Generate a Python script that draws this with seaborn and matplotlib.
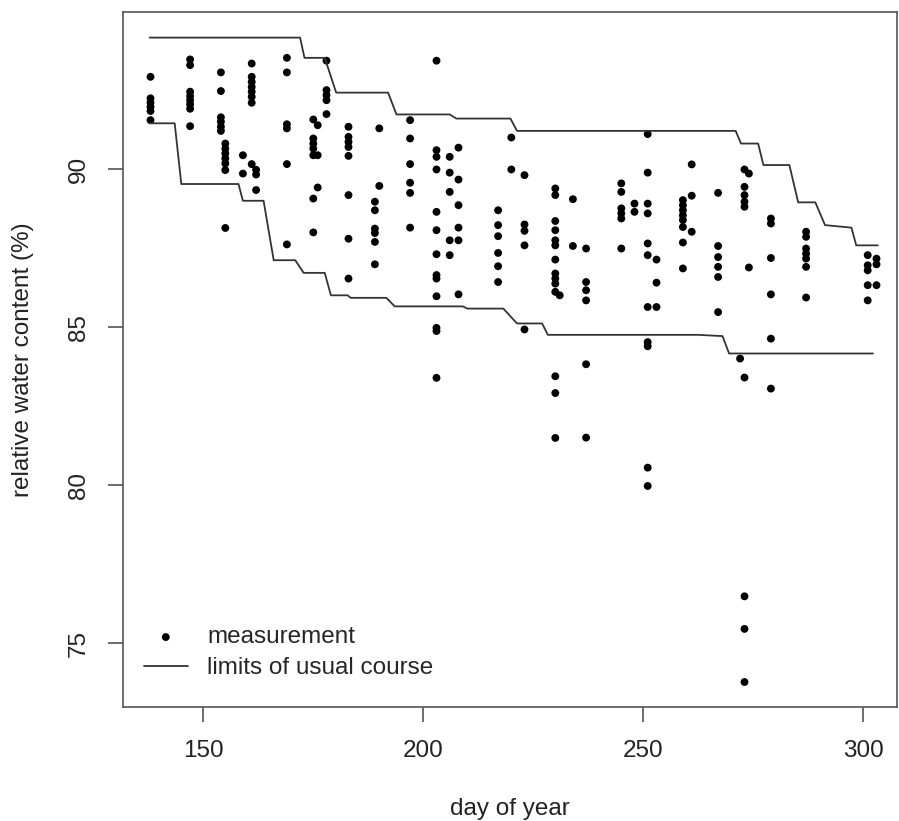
import numpy as np
import pandas as pd
import seaborn as sns
import matplotlib
matplotlib.use("Agg")
import matplotlib.pyplot as plt

# measured relative water content, grouped by day of year
days = [138, 147, 154, 155, 159, 161, 162, 169, 175, 176, 178, 183, 189, 190,
        197, 203, 206, 208, 217, 220, 223, 230, 231, 234, 237, 245, 248, 251,
        253, 259, 261, 267, 272, 273, 274, 279, 287, 301, 303]
values = [
    [92.92, 92.24, 92.10, 91.97, 91.84, 91.55],
    [93.47, 93.29, 92.45, 92.31, 92.18, 92.05, 91.91, 91.36],
    [93.06, 92.47, 91.64, 91.50, 91.34, 91.21],
    [90.81, 90.65, 90.50, 90.34, 90.18, 89.97, 88.14],
    [90.44, 89.86],
    [93.34, 92.92, 92.76, 92.60, 92.45, 92.29, 92.10, 90.16],
    [89.98, 89.83, 89.34],
    [93.52, 93.06, 91.42, 91.29, 90.16, 87.62],
    [91.57, 90.97, 90.81, 90.65, 90.44, 89.07, 88.00],
    [91.39, 90.44, 89.42],
    [93.43, 92.50, 92.34, 92.18, 91.74],
    [91.34, 91.02, 90.86, 90.70, 90.42, 89.18, 87.80, 86.54],
    [88.97, 88.70, 88.12, 87.98, 87.70, 86.99],
    [91.29, 89.47],
    [91.55, 90.97, 90.16, 89.57, 89.25, 88.15],
    [93.43, 90.60, 90.39, 89.99, 88.65, 88.07, 87.31, 86.65, 86.54, 85.98,
     84.98, 84.88, 83.40],
    [90.39, 89.89, 89.28, 87.75, 87.28],
    [90.68, 89.67, 88.86, 88.15, 87.75, 86.04],
    [88.70, 88.23, 87.88, 87.35, 86.93, 86.43],
    [91.00, 89.99],
    [89.81, 88.25, 88.05, 87.59, 84.93],
    [89.39, 89.18, 88.36, 88.07, 87.75, 87.59, 87.14, 86.70, 86.54, 86.38,
     86.12, 83.45, 82.92, 81.50],
    [86.01],
    [89.05, 87.57],
    [87.49, 86.43, 86.17, 85.85, 83.83, 81.51],
    [89.55, 89.28, 88.76, 88.60, 88.44, 87.49],
    [88.91, 88.65],
    [91.11, 89.89, 88.91, 88.60, 87.65, 87.28, 85.64, 84.53, 84.40, 80.56, 79.98],
    [87.14, 86.41, 85.64],
    [89.02, 88.86, 88.70, 88.54, 88.39, 88.17, 87.68, 86.86],
    [90.15, 89.16, 88.02],
    [89.25, 87.57, 87.22, 86.91, 86.59, 85.48],
    [84.01],
    [89.99, 89.44, 89.18, 88.97, 88.81, 83.41, 76.49, 75.46, 73.78],
    [89.86, 86.89],
    [88.44, 88.28, 87.19, 86.04, 84.64, 83.06],
    [88.02, 87.86, 87.49, 87.33, 87.17, 86.91, 85.94],
    [87.28, 86.96, 86.80, 86.33, 85.85],
    [87.17, 86.99, 86.33],
]

# limits of the usual course
upper_day = [137.8, 172, 173, 177.6, 180.2, 192, 193.9, 206, 207.5, 219.8, 221.3,
             271, 272.2, 276.1, 277.3, 283.2, 285.2, 289.1, 291.3, 297.3, 298.4, 303.3]
upper_val = [94.16, 94.16, 93.52, 93.52, 92.42, 92.42, 91.73, 91.73, 91.60, 91.60, 91.21,
             91.21, 90.81, 90.81, 90.13, 90.13, 88.95, 88.95, 88.23, 88.15, 87.59, 87.59]
lower_day = [137.8, 143.5, 145, 158, 159, 163.7, 166, 170.9, 172.8, 177.6, 179, 182.8,
             183.5, 191.6, 193.5, 209, 210, 218.2, 221.3, 227, 228.3, 262.3, 268, 269.5, 302.2]
lower_val = [91.45, 91.45, 89.53, 89.53, 89.0, 89.0, 87.12, 87.12, 86.72, 86.72, 86.01, 86.01,
             85.93, 85.93, 85.66, 85.66, 85.59, 85.59, 85.12, 85.12, 84.76, 84.76, 84.72, 84.17, 84.17]

df = pd.DataFrame({'day': np.repeat(days, [len(v) for v in values]),
                   'rwc': np.concatenate(values)})

sns.set_style("ticks")
plt.rcParams['font.family'] = ['Liberation Sans', 'DejaVu Sans']

fig = plt.figure(figsize=(8.99, 8.21), dpi=100)
ax = fig.add_axes([123 / 899, 114 / 821, 774 / 899, 695 / 821])

sns.scatterplot(data=df, x='day', y='rwc', ax=ax, color='black', s=32,
                edgecolor='none', label='measurement')
sns.lineplot(x=upper_day, y=upper_val, ax=ax, sort=False, estimator=None,
             color='#333333', lw=1.3, label='limits of usual course')
sns.lineplot(x=lower_day, y=lower_val, ax=ax, sort=False, estimator=None,
             color='#333333', lw=1.3)

ax.set_xlim(131.75, 307.66)
ax.set_ylim(72.99, 94.97)
ax.set_xticks([150, 200, 250, 300])
ax.set_yticks([75, 80, 85, 90])
for s in ax.spines.values():
    s.set_color('#555555')
    s.set_linewidth(1.2)
ax.tick_params(length=11, width=1.2, color='#555555', labelsize=17.5, pad=13,
               labelcolor='#222222')
plt.setp(ax.get_yticklabels(), rotation=90, va='center')
ax.set_xlabel('day of year', fontsize=17.5, color='#222222', labelpad=26)
ax.set_ylabel('relative water content (%)', fontsize=17.5, color='#222222', labelpad=24)

ax.legend(loc='lower left', bbox_to_anchor=(0.027, 0.04), frameon=False,
          fontsize=17.5, borderpad=0, borderaxespad=0, handlelength=1.8,
          handletextpad=0.8, labelspacing=0.36, markerscale=1.0)

fig.savefig('out.png', dpi=100)
